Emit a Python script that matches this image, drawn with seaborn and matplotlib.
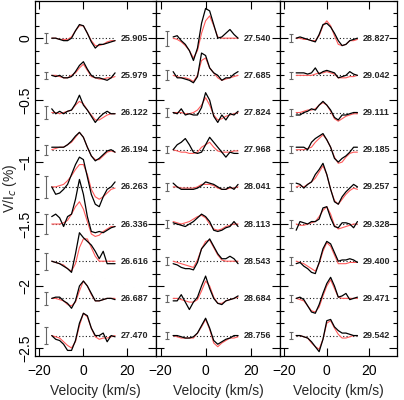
import numpy as np
import matplotlib
matplotlib.use("Agg")
import matplotlib.pyplot as plt
from matplotlib.ticker import MultipleLocator, FuncFormatter
import seaborn as sns

# velocity grid (km/s)
velocity = [-14.4, -12.6, -10.8, -9.0, -7.2, -5.4, -3.6, -1.8, 0.0,
            1.8, 3.6, 5.4, 7.2, 9.0, 10.8, 12.6, 14.4]

# rotational phases / dates shown next to each profile
dates_1 = ["25.905", "25.979", "26.122", "26.194", "26.263", "26.336", "26.616", "26.687", "27.470"]
dates_2 = ["27.540", "27.685", "27.824", "27.968", "28.041", "28.113", "28.543", "28.684", "28.756"]
dates_3 = ["28.827", "29.042", "29.111", "29.185", "29.257", "29.328", "29.400", "29.471", "29.542"]

# observed Stokes V profiles, in units of 0.01 % of Ic
obs_1 = [
    [0, 0, -1, -2, -2, 0, 6, 11, 10, 4, -3, -8, -5, -5, -4, -3, -2],
    [0, -1, 0, -2, -2, -1, 3, 8, 11, 5, 0, -2, -2, -3, -4, -2, 2],
    [3, -1, 1, -1, 1, 2, 7, 14, 6, 2, -3, -8, -4, -1, 1, -1, -1],
    [2, 2, 2, 2, 4, 7, 11, 14, 10, 2, -5, -9, -7, -4, -1, 0, -2],
    [0, -6, -5, -2, 2, 10, 18, 24, 22, 8, -6, -14, -16, -8, -2, 0, 4],
    [6, 8, 5, -2, 6, 8, 20, 36, 24, 6, -6, -7, -6, -7, -5, -3, -2],
    [0, -1, -2, -4, -6, -9, 6, 23, 19, 16, 13, 8, 2, 8, -2, -2, -2],
    [0, 1, 1, -2, -4, -8, -2, 10, 14, 10, 4, -2, -2, -1, 0, 0, -1],
    [0, -3, -4, -7, -12, -12, -4, 10, 18, 16, 6, 0, 0, 2, -5, 0, -1],
]
obs_2 = [
    [1, 2, -2, -5, -10, -18, -8, 12, 24, 22, 11, 0, 1, 4, 7, 3, 0],
    [3, -2, -2, -3, -4, -6, -1, 18, 16, 6, 2, 0, -4, -2, -2, 1, 3],
    [0, -1, 3, -2, -1, -2, -2, 4, 16, 10, -3, -8, -2, -6, -1, -2, 1],
    [0, 4, 6, 9, 4, -2, -3, -2, 4, 10, 6, 2, -2, -6, -2, -3, -3],
    [3, 0, -2, -2, -2, -2, -1, 1, 4, 3, 2, 0, -2, -2, 0, -2, 2],
    [1, 0, -1, -2, 0, 2, 5, 8, 6, 2, -5, -6, -5, -3, -2, 2, -2],
    [-2, -3, -5, -6, -6, -7, -1, 10, 14, 18, 12, 6, 2, 2, 4, 2, -2],
    [-2, -2, 3, -3, -9, -3, 1, 10, 18, 8, 0, -4, -5, -2, -1, 0, 2],
    [0, 0, -1, -2, -2, -1, 2, 8, 14, 6, -4, -7, -5, -3, -2, 0, 0],
]
obs_3 = [
    [0, 1, 0, -1, -2, -3, 3, 11, 12, 9, 4, -2, -6, -5, -2, -1, 0],
    [2, 2, 2, 1, 2, 6, 1, 3, 4, 3, 2, -2, -1, 0, 3, 1, 0],
    [-2, -2, 0, 1, 3, 2, 6, 9, 6, 2, -4, -6, -2, -2, -1, 0, 0],
    [2, 2, 2, 0, 6, 9, 11, 13, 8, 2, -7, -10, -7, -5, -2, 2, 2],
    [3, 2, -1, 2, 4, 10, 14, 19, 10, -2, -12, -14, -8, -4, -1, 2, 0],
    [-5, 2, 1, 0, 2, 2, 4, 13, 14, 5, -2, -3, 1, 1, 0, -3, 2],
    [-2, -1, -4, -6, -9, -10, -1, 10, 16, 14, 7, 0, 1, 1, 2, 1, -1],
    [0, 1, -1, -6, -11, -12, -5, 4, 12, 17, 10, 1, 2, 4, -1, 0, 1],
    [0, 0, -1, -2, -5, -9, -13, -3, 12, 13, 7, 4, 2, 2, 1, 0, 0],
]

# model fits, same units
model_1 = [
    [0, 0, -1, -1, -1, 1, 6, 10, 10, 4, -2, -6, -6, -5, -3, -2, -2],
    [0, 0, -1, -2, -2, 0, 2, 6, 9, 4, -1, -2, -3, -3, -2, -2, -1],
    [0, 0, -1, 0, 1, 2, 6, 9, 7, 2, -2, -6, -6, -4, -2, -1, -1],
    [0, 1, 2, 2, 4, 6, 10, 14, 10, 2, -5, -8, -8, -5, -2, -1, -2],
    [0, 0, 1, 2, 5, 9, 14, 18, 18, 10, -2, -8, -10, -8, -5, -2, -1],
    [0, 0, 0, 1, 3, 8, 14, 18, 12, 2, -8, -10, -9, -6, -4, -2, -2],
    [0, -1, -2, -3, -6, -8, -2, 11, 18, 18, 11, 4, 0, 0, 0, 0, 0],
    [0, 0, -1, -2, -5, -6, -3, 6, 14, 10, 3, -2, -2, -1, 0, 0, 0],
    [0, -1, -2, -5, -8, -10, -5, 8, 18, 15, 6, -1, -3, -2, -2, -1, 0],
]
model_2 = [
    [0, -1, -3, -6, -10, -16, -10, 4, 14, 18, 10, 1, 0, 0, 0, 0, 0],
    [0, -1, -2, -2, -3, -5, 0, 12, 14, 6, 2, -2, -4, -3, -2, -1, 0],
    [0, 0, 0, -1, -1, 0, 2, 6, 12, 6, -2, -6, -5, -3, -2, -1, 0],
    [0, -1, -2, -2, -3, -3, -2, 2, 4, 6, 2, -1, -2, -2, -2, -1, -1],
    [0, 0, -1, -1, -1, -1, 0, 2, 2, 2, 1, -1, -2, -2, -1, -1, 0],
    [2, 1, 0, 1, 2, 4, 6, 7, 5, 0, -4, -5, -4, -2, -1, 0, 0],
    [0, -1, -2, -3, -4, -5, 1, 10, 16, 17, 11, 5, 1, 0, 0, 0, 0],
    [0, 0, -1, -2, -3, -3, -1, 6, 14, 10, 1, -4, -4, -2, -1, 0, 1],
    [0, -1, -2, -2, -2, -2, 2, 7, 13, 5, -6, -9, -6, -4, -2, -2, -1],
]
model_3 = [
    [0, 0, -1, -1, -2, -2, 2, 10, 14, 10, 2, -5, -6, -5, -2, -2, -1],
    [0, 0, 0, 0, 0, 1, 2, 2, 3, 2, 1, -2, -2, -2, -1, -1, 0],
    [0, 0, 1, 2, 2, 3, 6, 8, 6, 1, -5, -7, -5, -3, -2, -1, -1],
    [0, 0, 0, 1, 2, 6, 9, 12, 8, 2, -6, -11, -10, -6, -3, -2, -2],
    [0, 1, 0, 2, 4, 7, 12, 17, 10, -2, -11, -14, -10, -6, -3, -1, -2],
    [0, -1, -1, 0, 1, 2, 6, 11, 14, 8, -1, -4, -3, -2, -1, 0, 0],
    [0, -1, -2, -4, -6, -8, -2, 8, 15, 12, 5, -2, -2, -2, -1, -1, -1],
    [0, -1, -2, -6, -10, -11, -7, 2, 10, 15, 8, 1, 0, 0, 0, 0, 0],
    [0, 0, -1, -2, -6, -9, -11, -3, 10, 12, 6, 1, -2, -2, -1, 0, 0],
]

# error bar half-sizes, same units
err_1 = [4, 3, 5, 4, 9, 8, 7, 5, 7]
err_2 = [6, 4, 4, 3, 3, 3, 3, 3, 3]
err_3 = [3, 3, 3, 3, 3, 3, 3, 3, 3]

panels = [
    (dates_1, obs_1, model_1, err_1),
    (dates_2, obs_2, model_2, err_2),
    (dates_3, obs_3, model_3, err_3),
]

sns.set_theme(style="ticks")
plt.rcParams["font.family"] = ["Liberation Sans", "DejaVu Sans"]

W, H = 404, 400
fig = plt.figure(figsize=(W / 100, H / 100), dpi=100)
edges = [(35, 156), (156, 280), (280, 397)]
top, bottom = 1, 356
step = 0.3

for k, ((x0, x1), (dates, obs, model, err)) in enumerate(zip(edges, panels)):
    ax = fig.add_axes([x0 / W, 1 - bottom / H, (x1 - x0) / W, (bottom - top) / H])
    for i in range(len(dates)):
        base = -step * i
        ax.hlines(base, velocity[0], velocity[-1], colors="k",
                  linestyles=(0, (1, 2)), linewidth=0.8)
        sns.lineplot(x=velocity, y=np.array(model[i]) / 100 + base, ax=ax,
                     color="#ff5a5a", linewidth=0.8, sort=False, errorbar=None)
        sns.lineplot(x=velocity, y=np.array(obs[i]) / 100 + base, ax=ax,
                     color="black", linewidth=0.9, sort=False, errorbar=None)
        ax.errorbar([-17], [base], yerr=[err[i] / 100], color="0.4",
                    linewidth=0.8, capsize=1.2, capthick=0.8)
        ax.text(17, base, dates[i], fontsize=6.5, fontweight="bold",
                va="center", ha="left")

    ax.set_xlim(-22, 33)
    ax.set_ylim(-2.565, 0.3)
    ax.set_xticks([-20, 0, 20])
    ax.yaxis.set_major_locator(MultipleLocator(0.5))
    ax.yaxis.set_minor_locator(MultipleLocator(0.1))
    ax.tick_params(which="both", direction="in", top=True, right=True,
                   width=0.8, colors="black", labelsize=10)
    ax.tick_params(which="major", length=6)
    ax.tick_params(which="minor", length=3)
    ax.tick_params(axis="x", pad=6)
    ax.yaxis.set_major_formatter(
        FuncFormatter(lambda v, _: f"{v:g}".replace("-", "\u2212")))
    if k == 0:
        ax.tick_params(axis="y", pad=2)
        plt.setp(ax.get_yticklabels(), rotation=90, va="center")
    else:
        ax.tick_params(axis="y", labelleft=False)
    for s in ax.spines.values():
        s.set_linewidth(0.9)
        s.set_color("black")
    ax.set_xlabel("Velocity (km/s)", fontsize=10, labelpad=4)

fig.text(10 / W, 1 - 188 / H, "V/I$_c$ (%)", rotation=90, fontsize=10,
         ha="center", va="center")

fig.savefig("out.png", dpi=100)
